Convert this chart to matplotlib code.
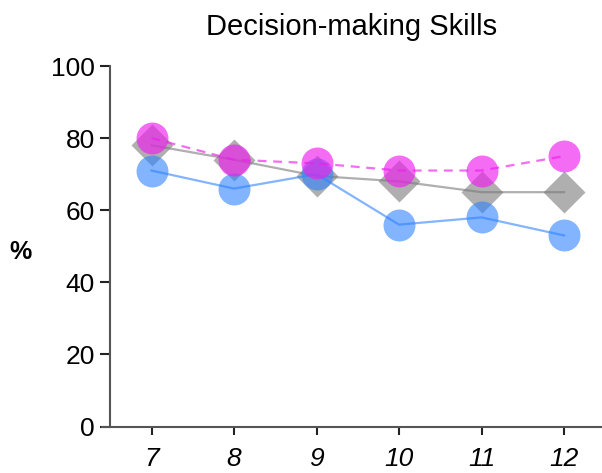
import matplotlib.pyplot as plt
import numpy as np

plt.rcParams['font.family'] = ['Liberation Sans', 'DejaVu Sans']

grades = [7, 8, 9, 10, 11, 12]
gray_vals = [78, 74, 69.5, 68, 65, 65]
blue_vals = [71, 66, 70, 56, 58, 53]
pink_vals = [80, 74, 73, 71, 71, 75]

fig = plt.figure(figsize=(6.02, 4.73), dpi=100)
ax = fig.add_axes([102/602, 1 - 426.5/473, 500/602, 360.5/473])

ax.plot(grades, gray_vals, color='#7a7a7a', alpha=0.6, lw=1.6, marker='D', ms=21,
        mec='none', clip_on=False)
ax.plot(grades, blue_vals, color='#2f82ff', alpha=0.6, lw=1.6, marker='o', ms=23,
        mec='none', clip_on=False)
ax.plot(grades, pink_vals, color='#ee1eee', alpha=0.65, lw=1.6, ls='--', dashes=(4, 3),
        marker='o', ms=23, mec='none', clip_on=False)

ax.set_xlim(6.4, 12.46)
ax.set_ylim(0, 100)
ax.set_xticks(grades)
ax.set_xticklabels([str(g) for g in grades], fontstyle='italic', fontsize=19)
ax.set_yticks(np.arange(0, 101, 20))
ax.tick_params(axis='y', labelsize=19, length=7, width=1.5, color='#222222', pad=4)
ax.tick_params(axis='x', length=6, width=1.5, color='#222222', pad=9)

for s in ['top', 'right']:
    ax.spines[s].set_visible(False)
ax.spines['left'].set_position(('data', 6.5))
ax.spines['left'].set_color('#555555')
ax.spines['bottom'].set_color('#555555')
ax.spines['left'].set_linewidth(1.5)
ax.spines['bottom'].set_linewidth(1.5)

ax.set_title('Decision-making Skills', fontsize=21, pad=22)
fig.text(21/602, 1 - 252/473, '%', fontsize=18, fontweight='bold', ha='center', va='center')

fig.savefig('out.png', dpi=100)
